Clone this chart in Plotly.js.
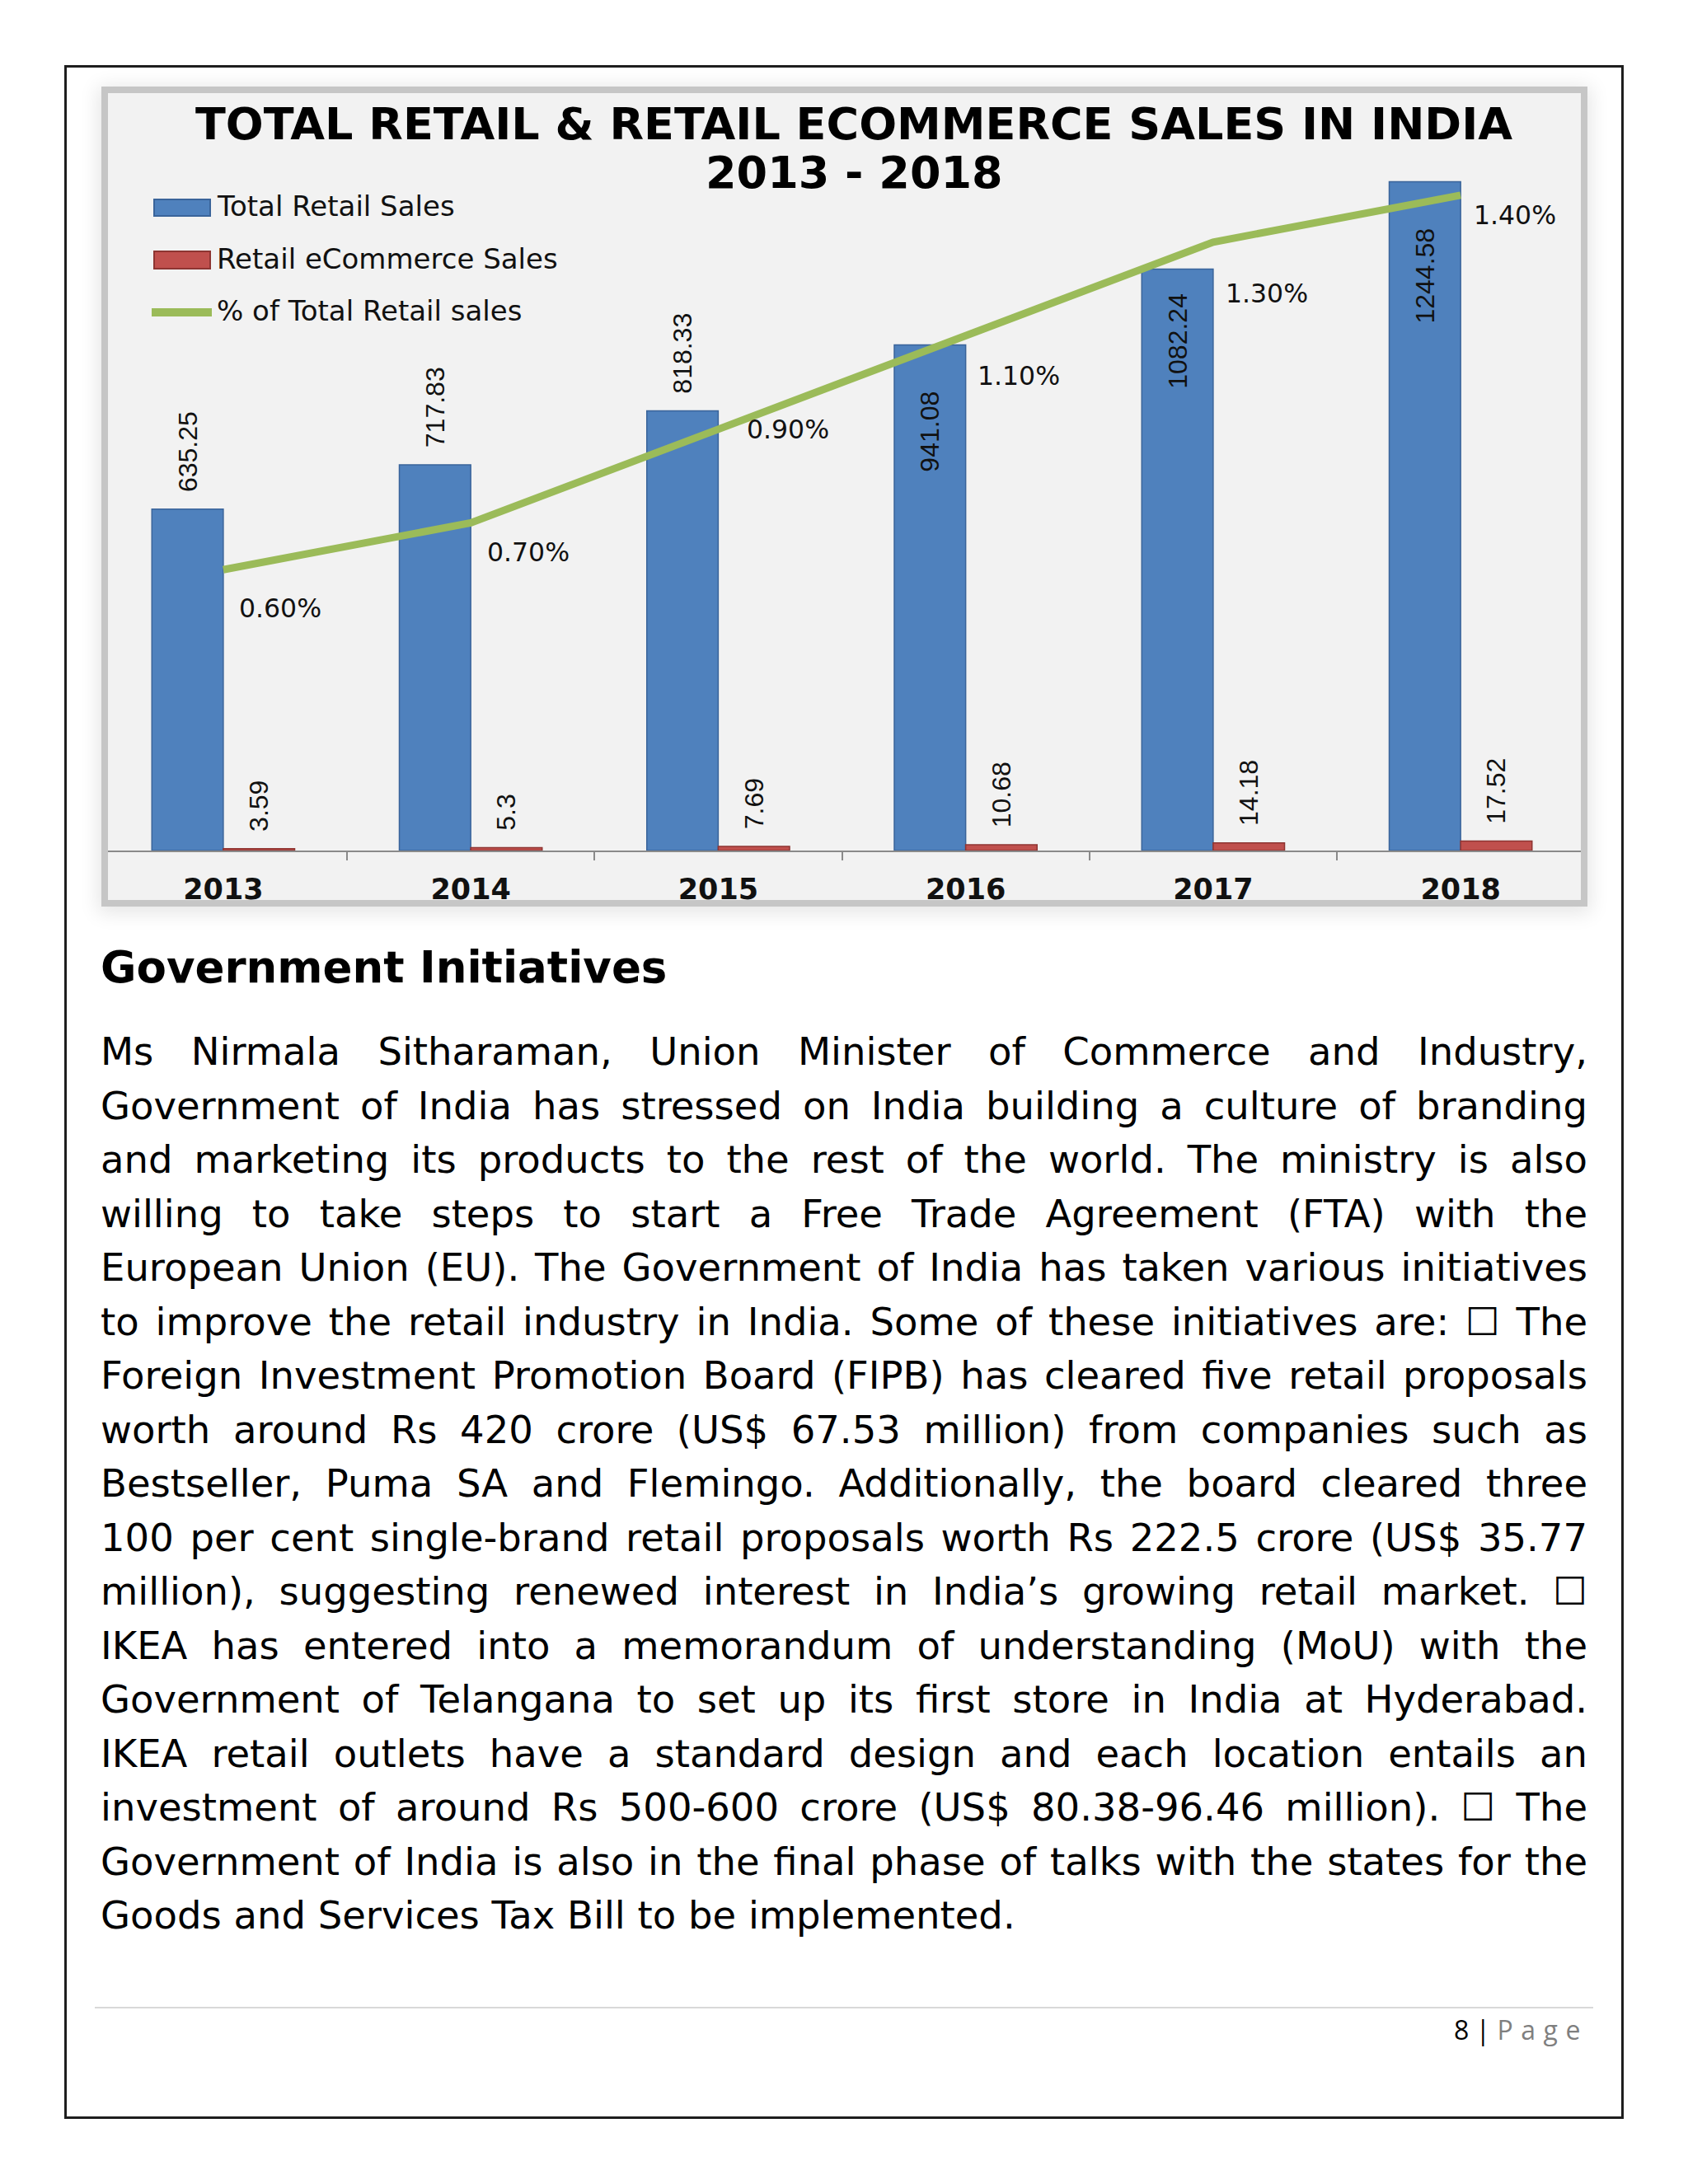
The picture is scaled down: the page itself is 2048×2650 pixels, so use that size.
<!DOCTYPE html>
<html>
<head>
<meta charset="utf-8">
<script src="https://cdn.plot.ly/plotly-3.0.1.min.js"></script>
<style>
  html, body { margin:0; padding:0; background:#ffffff; }
  body { width:2048px; height:2650px; position:relative; overflow:hidden; }
  #pageBorder { position:absolute; left:78px; top:79px; width:1892px; height:2492px; box-sizing:border-box; border:3px solid #1e1e1e; }
  #panel { position:absolute; left:131px; top:113px; width:1787px; height:979px; background:#f2f2f2;
           box-shadow: 0 0 0 8px #c6c6c6, 0 4px 22px 12px rgba(0,0,0,0.10); }
  #chart { position:absolute; left:0; top:0; width:2048px; height:1140px; }
  #heading { position:absolute; left:122px; top:1147px; font-family:'DejaVu Sans'; font-weight:bold; font-size:53px; line-height:53px; color:#000; white-space:nowrap; }
  #bodytext { position:absolute; left:122px; top:1244px; width:1804px; font-family:'DejaVu Sans'; font-size:46.5px; line-height:65.5px; color:#000; }
  #bodytext .jl { text-align:justify; text-align-last:justify; white-space:nowrap; }
  #bodytext .ll { text-align:left; white-space:nowrap; }
  #footline { position:absolute; left:115px; top:2435px; width:1818px; height:2px; background:#d9d9d9; }
  #footer { position:absolute; left:1764px; top:2447px; font-family:'Open Sans'; font-size:32px; line-height:32px; color:#000; white-space:nowrap; }
  #footer .pg { color:#7f7f7f; letter-spacing:9.5px; }
</style>
</head>
<body>
<div id="pageBorder"></div>
<div id="panel"></div>
<div id="chart"></div>

<div id="heading">Government Initiatives</div>
<div id="bodytext">
  <div class="jl">Ms Nirmala Sitharaman, Union Minister of Commerce and Industry,</div>
  <div class="jl">Government of India has stressed on India building a culture of branding</div>
  <div class="jl">and marketing its products to the rest of the world. The ministry is also</div>
  <div class="jl">willing to take steps to start a Free Trade Agreement (FTA) with the</div>
  <div class="jl">European Union (EU). The Government of India has taken various initiatives</div>
  <div class="jl">to improve the retail industry in India. Some of these initiatives are: &#x2610; The</div>
  <div class="jl">Foreign Investment Promotion Board (FIPB) has cleared five retail proposals</div>
  <div class="jl">worth around Rs 420 crore (US$ 67.53 million) from companies such as</div>
  <div class="jl">Bestseller, Puma SA and Flemingo. Additionally, the board cleared three</div>
  <div class="jl">100 per cent single-brand retail proposals worth Rs 222.5 crore (US$ 35.77</div>
  <div class="jl">million), suggesting renewed interest in India’s growing retail market. &#x2610;</div>
  <div class="jl">IKEA has entered into a memorandum of understanding (MoU) with the</div>
  <div class="jl">Government of Telangana to set up its first store in India at Hyderabad.</div>
  <div class="jl">IKEA retail outlets have a standard design and each location entails an</div>
  <div class="jl">investment of around Rs 500-600 crore (US$ 80.38-96.46 million). &#x2610; The</div>
  <div class="jl">Government of India is also in the final phase of talks with the states for the</div>
  <div class="ll">Goods and Services Tax Bill to be implemented.</div>
</div>
<div id="footline"></div>
<div id="footer">8 | <span class="pg">Page</span></div>

<script>
// ---------------- data ----------------
const years = ['2013', '2014', '2015', '2016', '2017', '2018'];
const totalRetailSales = [635.25, 717.83, 818.33, 941.08, 1082.24, 1244.58];
const ecommerceSales = [3.59, 5.3, 7.69, 10.68, 14.18, 17.52];
const ecommerceShare = [0.60, 0.70, 0.90, 1.10, 1.30, 1.40];   // % of total retail sales
const seriesNames = ['Total Retail Sales', 'Retail eCommerce Sales', '% of Total Retail sales'];
const chartTitle = 'TOTAL RETAIL & RETAIL ECOMMERCE SALES IN INDIA';
const chartSubtitle = '2013 - 2018';

// ---------------- styles ----------------
const BLUE = '#4f81bd', BLUE_EDGE = '#3a649a';
const RED = '#c0504d', RED_EDGE = '#8e3532';
const GREEN = '#9bbb59';
const NB = '\u00a0';
const totalLabelPos = ['outside', 'outside', 'outside', 'inside', 'inside', 'inside'];
const totalLabelPad = [2, 2, 2, 6, 3, 6];
const ecomLabelPad = 2;
const shareLabelShift = [[17, -47], [18, -36], [33, 0], [12, -49], [13, -62], [14, -24]];

// plot-area geometry (page pixels)
const W = 2048, H = 1140;
const PL = 131, PR = 1918, PT = 130, PB = 1032;
const PW = PR - PL, PH = PB - PT;
const fx = px => (px - PL) / PW;
const fy = py => (PB - py) / PH;

const totalText = totalRetailSales.map((v, i) =>
  totalLabelPos[i] === 'outside' ? NB.repeat(totalLabelPad[i]) + v : v + NB.repeat(totalLabelPad[i]));
const ecomText = ecommerceSales.map(v => NB.repeat(ecomLabelPad) + v);

const labelFont = { family: 'Liberation Sans, Arial, sans-serif', size: 32, color: '#111' };

const traces = [
  {
    type: 'bar', name: seriesNames[0], x: years, y: totalRetailSales, yaxis: 'y',
    marker: { color: BLUE, line: { color: BLUE_EDGE, width: 1.5 } },
    text: totalText, textposition: totalLabelPos, textangle: -90,
    insidetextanchor: 'end', constraintext: 'none', cliponaxis: false,
    textfont: labelFont, insidetextfont: labelFont, outsidetextfont: labelFont,
    hoverinfo: 'skip', showlegend: false
  },
  {
    type: 'bar', name: seriesNames[1], x: years, y: ecommerceSales, yaxis: 'y',
    marker: { color: RED, line: { color: RED_EDGE, width: 1.5 } },
    text: ecomText, textposition: 'outside', textangle: -90,
    constraintext: 'none', cliponaxis: false,
    textfont: labelFont, outsidetextfont: labelFont,
    hoverinfo: 'skip', showlegend: false
  },
  {
    type: 'scatter', mode: 'lines', name: seriesNames[2], x: years, y: ecommerceShare, yaxis: 'y2',
    line: { color: GREEN, width: 9 }, cliponaxis: false,
    hoverinfo: 'skip', showlegend: false
  }
];

// percentage labels: anchored on the line's data points (category index on the x axis)
const pctFont = { family: 'DejaVu Sans', size: 31.5, color: '#111' };
const annotations = ecommerceShare.map((v, i) => ({
  x: years.indexOf(years[i]), y: v, xref: 'x', yref: 'y2',
  text: v.toFixed(2) + '%', showarrow: false,
  xanchor: 'left', yanchor: 'middle',
  xshift: shareLabelShift[i][0], yshift: shareLabelShift[i][1],
  font: pctFont
}));

// second title line
annotations.push({
  x: fx(1036), y: fy(209.5), xref: 'paper', yref: 'paper',
  text: chartSubtitle, showarrow: false, xanchor: 'center', yanchor: 'middle',
  font: { family: 'DejaVu Sans', size: 54, weight: 'bold', color: '#000' }
});

// custom legend (swatches like the original)
const legFont = { family: 'DejaVu Sans', size: 34, color: '#111' };
const legRows = [250, 314, 377];
seriesNames.forEach((n, i) => {
  annotations.push({
    x: fx(261), y: fy(legRows[i]), xref: 'paper', yref: 'paper',
    text: n, showarrow: false, xanchor: 'left', yanchor: 'middle', font: legFont
  });
});
const shapes = [
  { type: 'rect', xref: 'paper', yref: 'paper', x0: fx(187), x1: fx(255), y0: fy(262), y1: fy(242),
    fillcolor: BLUE, line: { color: BLUE_EDGE, width: 2 } },
  { type: 'rect', xref: 'paper', yref: 'paper', x0: fx(187), x1: fx(255), y0: fy(326), y1: fy(305),
    fillcolor: RED, line: { color: RED_EDGE, width: 2 } },
  { type: 'line', xref: 'paper', yref: 'paper', x0: fx(184), x1: fx(257), y0: fy(379), y1: fy(379),
    line: { color: GREEN, width: 10 } }
];

// axis ranges chosen so category boundaries / value scales match the original
const catW = 300.25, catStart = 120.75;
const xr0 = -0.5 + (PL - catStart) / catW;
const xr1 = 5.5 - (catStart + 6 * catW - PR) / catW;

const hiddenAxis = { showgrid: false, zeroline: false, showline: false, showticklabels: false, ticks: '', fixedrange: true };

const layout = {
  width: W, height: H,
  margin: { l: PL, r: W - PR, t: PT, b: H - PB, pad: 0 },
  paper_bgcolor: 'rgba(0,0,0,0)', plot_bgcolor: 'rgba(0,0,0,0)',
  showlegend: false,
  title: {
    text: chartTitle, x: fx(1036), xref: 'paper', xanchor: 'center',
    y: 1 - 131 / H, yref: 'container', yanchor: 'top',
    font: { family: 'DejaVu Sans', size: 54, weight: 'bold', color: '#000' }
  },
  barmode: 'group', bargap: 0.423, bargroupgap: 0,
  xaxis: {
    type: 'category', range: [xr0, xr1], fixedrange: true,
    showline: true, linecolor: '#8a8a8a', linewidth: 2,
    ticks: 'outside', tickson: 'boundaries', ticklen: 10, tickwidth: 2, tickcolor: '#8a8a8a',
    ticklabelstandoff: 15,
    tickfont: { family: 'DejaVu Sans', size: 35, weight: 'bold', color: '#111' },
    showgrid: false, zeroline: false
  },
  yaxis: Object.assign({ range: [0, PH / 0.652] }, hiddenAxis),
  yaxis2: Object.assign({ range: [0, PH / 567.9], overlaying: 'y', side: 'right' }, hiddenAxis),
  annotations: annotations,
  shapes: shapes
};

Plotly.newPlot('chart', traces, layout, { displayModeBar: false, staticPlot: true, responsive: false });
</script>
</body>
</html>
